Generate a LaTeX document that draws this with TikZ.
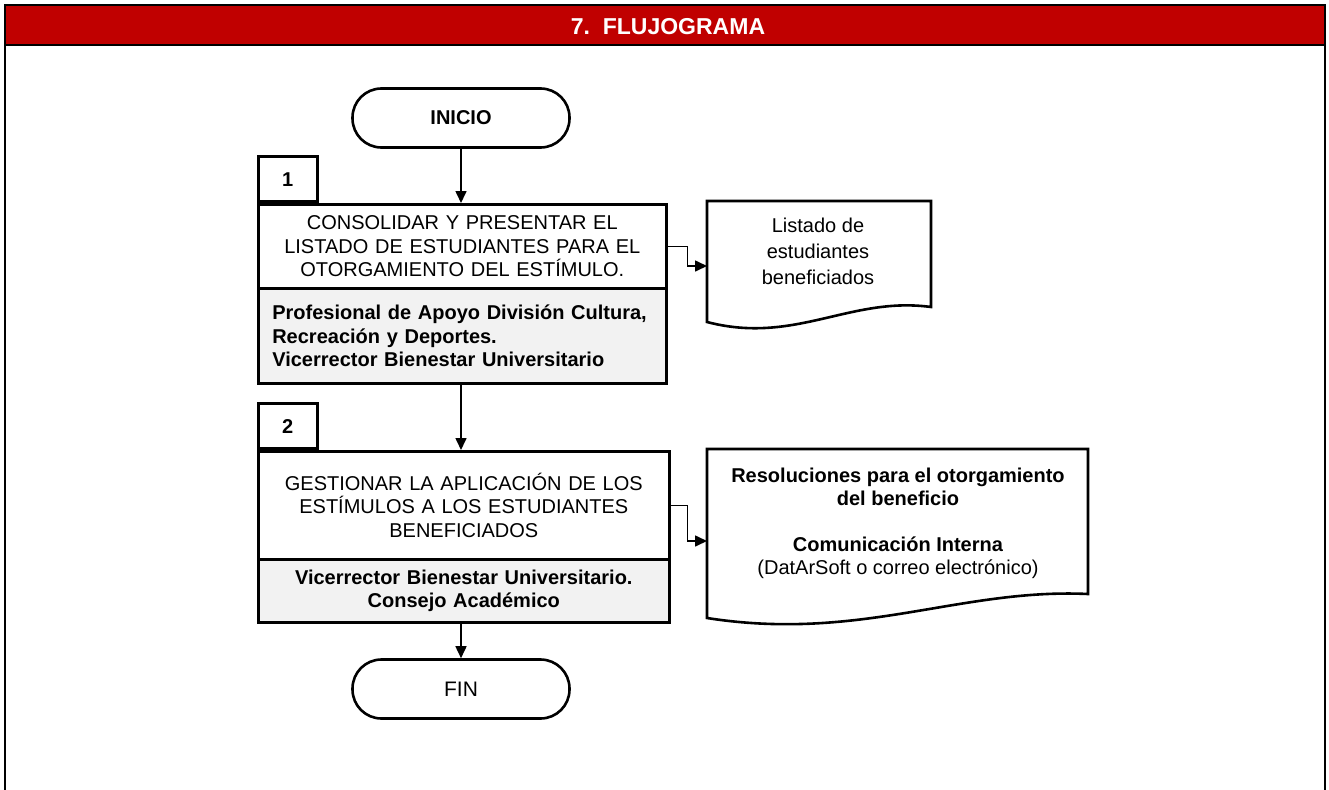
\documentclass[tikz,border=0pt]{standalone}
\usepackage{fontspec}
\setmainfont{Liberation Sans}
\usetikzlibrary{arrows.meta}
\definecolor{barred}{RGB}{192,0,0}
\definecolor{rolegray}{RGB}{242,242,242}
\tikzset{
  frame/.style={line width=2.6pt},
  term/.style={draw, line width=2.6pt, rectangle, rounded corners=29pt, minimum width=217pt, minimum height=59pt, font=\fontsize{21}{24}\selectfont},
  tabbox/.style={draw, line width=2.6pt, minimum width=59pt, minimum height=45pt, font=\bfseries\fontsize{20}{24}\selectfont},
  taskbox/.style={draw, line width=2.6pt, inner sep=0pt, align=center, font=\fontsize{20}{23.5}\selectfont},
  rolebox/.style={draw, line width=2.6pt, fill=rolegray, inner sep=0pt, font=\bfseries\fontsize{20}{23.5}\selectfont},
  docshape/.style={draw, line width=2.6pt, fill=white},
  doctext/.style={align=center, inner sep=0pt, font=\fontsize{20}{26}\selectfont},
  arr/.style={line width=1.6pt, -{Triangle[length=12pt,width=11pt]}},
}
\begin{document}
\begin{tikzpicture}[x=1pt,y=-1pt]
\useasboundingbox (0,0) rectangle (1329,789);
% frame and title bar
\fill[barred] (5,6) rectangle (1325,45);
\draw[frame] (5,795) -- (5,5) -- (1325,5) -- (1325,795);
\draw[frame] (5,45) -- (1325,45);
\node[text=white, font=\bfseries\fontsize{23}{26}\selectfont] (title) at (668,27) {7.\ \ FLUJOGRAMA};
% start
\node[term, font=\bfseries\fontsize{20}{24}\selectfont] (ini) at (461,118) {INICIO};
% step 1
\node[tabbox, anchor=south west] (t1) at (257,203) {1};
\node[taskbox, anchor=north west, minimum width=408pt, minimum height=84pt, text width=404pt] (b1) at (257,203)
  {CONSOLIDAR Y PRESENTAR EL\\LISTADO DE ESTUDIANTES PARA EL\\OTORGAMIENTO DEL ESTÍMULO.};
\node[rolebox, anchor=north west, minimum width=408pt, minimum height=95pt, text width=380pt, align=left] (g1) at (257,287)
  {Profesional de Apoyo División Cultura,\\Recreación y Deportes.\\Vicerrector Bienestar Universitario};
% document 1
\draw[docshape] (707,201) -- (931,201) -- (931,307) .. controls (850,296) and (795,345) .. (707,322) -- cycle;
\node[doctext] (d1) at (818,251) {Listado de\\estudiantes\\beneficiados};
\coordinate (d1in) at (707,266);
% step 2
\node[tabbox, anchor=south west] (t2) at (257,450) {2};
\node[taskbox, anchor=north west, minimum width=411pt, minimum height=108pt, text width=405pt] (b2) at (257,450)
  {GESTIONAR LA APLICACIÓN DE LOS\\ESTÍMULOS A LOS ESTUDIANTES\\BENEFICIADOS};
\node[rolebox, anchor=north west, minimum width=411pt, minimum height=63pt, text width=405pt, align=center] (g2) at (257,558)
  {Vicerrector Bienestar Universitario.\\Consejo Académico};
% document 2
\draw[docshape] (707,449) -- (1088,449) -- (1088,594) .. controls (960,588) and (860,642) .. (707,618) -- cycle;
\node[doctext, font=\fontsize{20}{23}\selectfont] (d2) at (898,523)
  {\textbf{Resoluciones para el otorgamiento}\\\textbf{del beneficio}\\[23pt]\textbf{Comunicación Interna}\\(DatArSoft o correo electrónico)};
\coordinate (d2in) at (707,541);
% end
\node[term] (fin) at (461,689) {FIN};
% connectors
\draw[arr] (ini.south) -- (b1.north -| ini.south);
\draw[arr] (b1.east) -- ++(20,0) |- (d1in);
\draw[arr] (g1.south -| ini.south) -- (b2.north -| ini.south);
\draw[arr] (b2.east) -- ++(17,0) |- (d2in);
\draw[arr] (g2.south -| ini.south) -- (fin.north);
\end{tikzpicture}
\end{document}
